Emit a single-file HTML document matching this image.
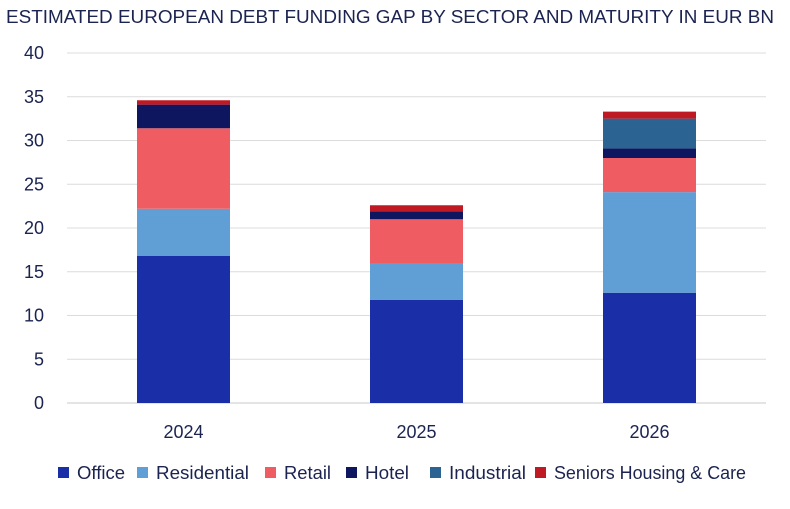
<!DOCTYPE html>
<html><head><meta charset="utf-8"><style>
body{margin:0;background:#fff;width:790px;height:504px;overflow:hidden;font-family:"Liberation Sans",sans-serif;color:#1b2350}
svg text{font-family:"Liberation Sans",sans-serif;fill:#1b2350}
</style></head><body>
<svg id="chart" width="790" height="504">
<text x="6" y="23" font-size="18" textLength="768" lengthAdjust="spacingAndGlyphs">ESTIMATED EUROPEAN DEBT FUNDING GAP BY SECTOR AND MATURITY IN EUR BN</text>
<g id="grid"></g><g id="bars"></g><g id="axes"></g><g id="legend"></g>
</svg>
<script>
const categories=["2024","2025","2026"];
const seriesNames=["Office","Residential","Retail","Hotel","Industrial","Seniors Housing & Care"];
const colors=["#1a2ea8","#5f9fd6","#ef5d63","#0e1660","#2b6393","#bf1a24"];
const office=[16.8,11.8,12.6];
const residential=[5.4,4.2,11.5];
const retail=[9.2,5.0,3.9];
const hotel=[2.7,0.9,1.1];
const industrial=[0,0,3.4];
const seniors=[0.5,0.7,0.8];
const series=[office,residential,retail,hotel,industrial,seniors];
const yTicks=[0,5,10,15,20,25,30,35,40];
const legendX=[58,137,265,346,430,535];
const legendW=[48,93,47,44,77,192];
const NS="http://www.w3.org/2000/svg";
const x0=67,x1=766,y0=403,y1=53,yMax=40;
const y=v=>y0-(y0-y1)*v/yMax;
const band=(x1-x0)/categories.length;
const cx=i=>x0+band*(i+0.5);
const bw=93;
function mk(tag,attrs,parent){const e=document.createElementNS(NS,tag);for(const k in attrs)e.setAttribute(k,attrs[k]);parent.appendChild(e);return e;}
const grid=document.getElementById('grid'),bars=document.getElementById('bars'),axes=document.getElementById('axes'),legend=document.getElementById('legend');
yTicks.forEach(t=>{
 const l=mk('line',{x1:x0,x2:x1,y1:y(t),y2:y(t),stroke:t===0?'#c8c8c8':'#dcdcdc','stroke-width':1},grid);
 
 
 const tx=mk('text',{x:44,y:y(t)+6,'font-size':18,'text-anchor':'end'},axes);
 tx.textContent=t;
 
 
});
categories.forEach((c,i)=>{
 let acc=0;
 series.forEach((s,j)=>{
  const v=s[i]; if(v<=0){return;}
  const r=mk('rect',{x:cx(i)-bw/2,y:y(acc+v),width:bw,height:y(acc)-y(acc+v),fill:colors[j]},bars);
  
  
  acc+=v;
 });
 const tx=mk('text',{x:cx(i),y:438,'font-size':18,'text-anchor':'middle'},axes);
 tx.textContent=c;
 
 
});
seriesNames.forEach((n,j)=>{
 const r=mk('rect',{x:legendX[j],y:467,width:11,height:11,fill:colors[j]},legend);
 
 
 const tx=mk('text',{x:legendX[j]+19,y:479,'font-size':18,textLength:legendW[j],lengthAdjust:'spacingAndGlyphs'},legend);
 tx.textContent=n;
 
 
});
</script>
</body></html>
